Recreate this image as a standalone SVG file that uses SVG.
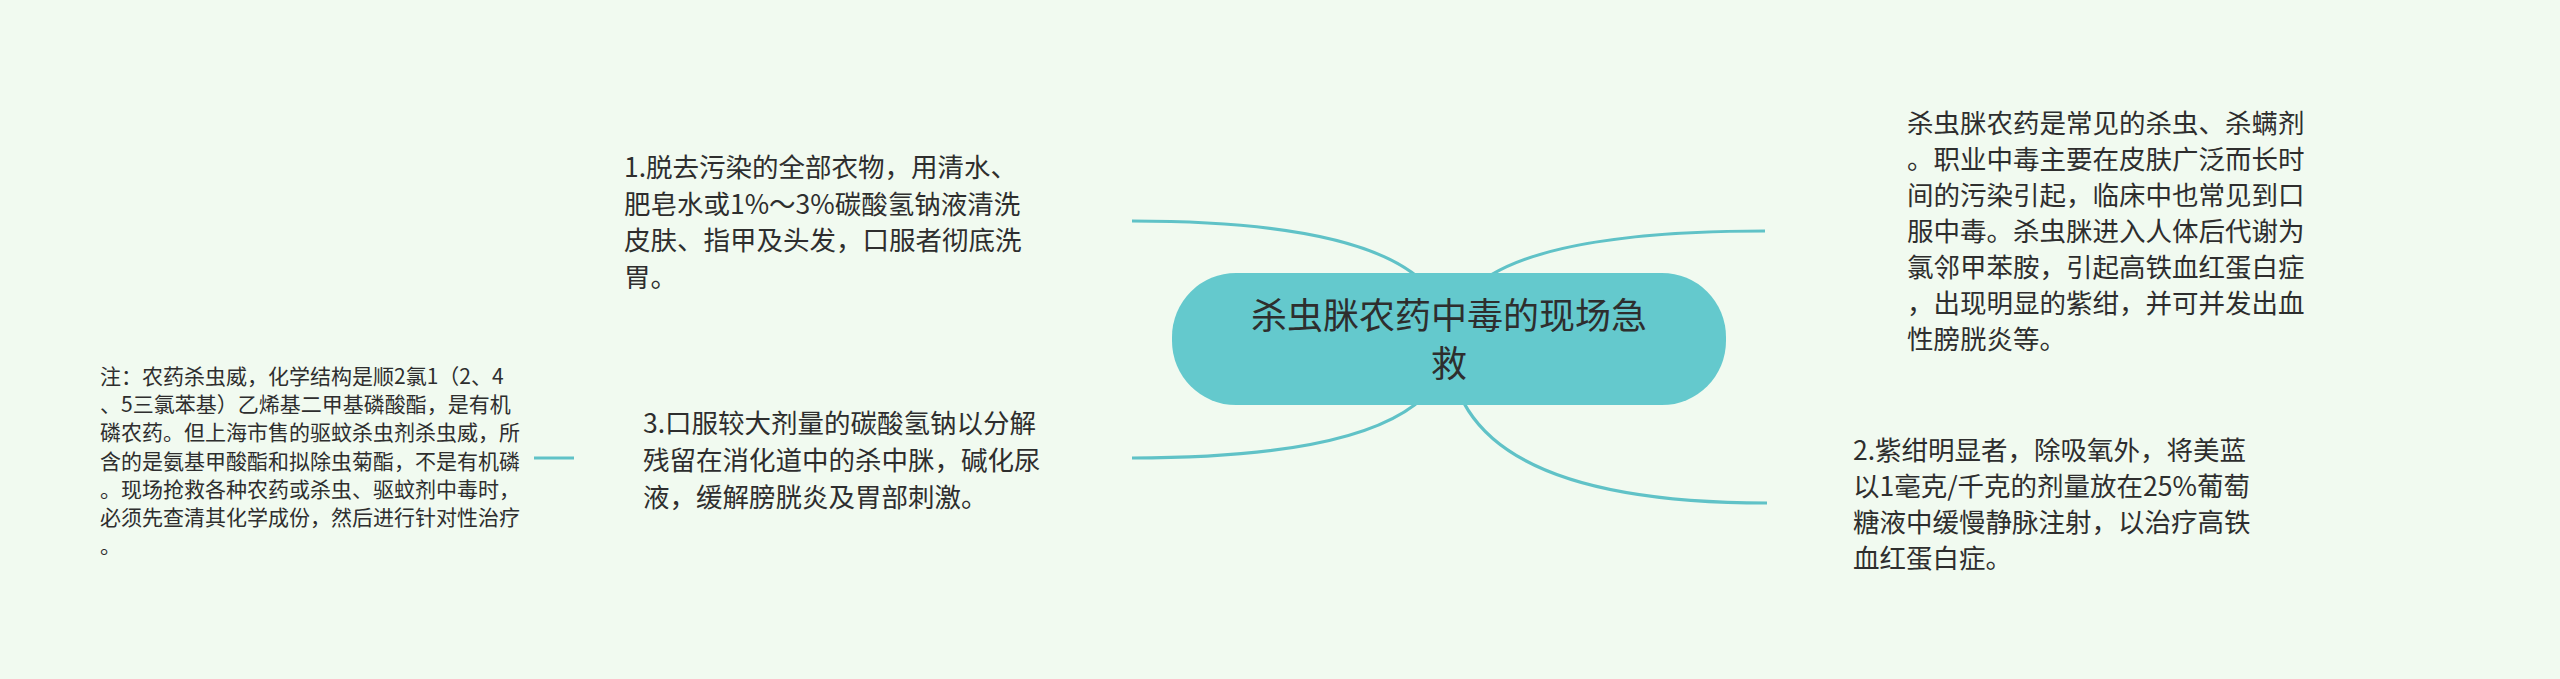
<svg xmlns="http://www.w3.org/2000/svg" width="2560" height="679" viewBox="0 0 2560 679">
<style>
.bg{fill:#f1faf0}
.edge{fill:none;stroke:#60c2c7;stroke-width:3.2;stroke-linecap:butt}
.root{fill:#64c9cd}
.t{font-family:"Noto Sans CJK SC","Noto Sans",sans-serif;fill:#2e2e2e}
.rt{font-size:36px}
.n{font-size:26.5px}
.s{font-size:21px}
</style>
<rect class="bg" x="0" y="0" width="2560" height="679"/>
<g id="connectors">
<path class="edge" d="M1132,221 Q1449,221 1449,340"/>
<path class="edge" d="M1765,231 Q1449,231 1449,340"/>
<path class="edge" d="M1132,458 Q1449,458 1449,340"/>
<path class="edge" d="M1767,503 Q1449,503 1449,340"/>
<path class="edge" d="M534,458 L574,458"/>
</g>
<g id="root">
<rect class="root" x="1172" y="273" width="554" height="132" rx="64" ry="64"/>
<text class="t rt" text-anchor="middle"><tspan x="1449" y="329">杀虫脒农药中毒的现场急</tspan><tspan x="1449" y="377">救</tspan></text>
</g>
<g id="node1">
<text class="t n"><tspan x="624" y="177">1.脱去污染的全部衣物，用清水、</tspan><tspan x="624" y="213.5">肥皂水或1%～3%碳酸氢钠液清洗</tspan><tspan x="624" y="250">皮肤、指甲及头发，口服者彻底洗</tspan><tspan x="624" y="286.5">胃。</tspan></text>
</g>
<g id="node3">
<text class="t n"><tspan x="643" y="433">3.口服较大剂量的碳酸氢钠以分解</tspan><tspan x="643" y="470">残留在消化道中的杀中脒，碱化尿</tspan><tspan x="643" y="507">液，缓解膀胱炎及胃部刺激。</tspan></text>
</g>
<g id="note">
<text class="t s"><tspan x="100" y="384">注：农药杀虫威，化学结构是顺2氯1（2、4</tspan><tspan x="100" y="412.2">、5三氯苯基）乙烯基二甲基磷酸酯，是有机</tspan><tspan x="100" y="440.4">磷农药。但上海市售的驱蚊杀虫剂杀虫威，所</tspan><tspan x="100" y="468.6">含的是氨基甲酸酯和拟除虫菊酯，不是有机磷</tspan><tspan x="100" y="496.8">。现场抢救各种农药或杀虫、驱蚊剂中毒时，</tspan><tspan x="100" y="525">必须先查清其化学成份，然后进行针对性治疗</tspan><tspan x="100" y="553.2">。</tspan></text>
</g>
<g id="node-right-top">
<text class="t n"><tspan x="1907" y="133">杀虫脒农药是常见的杀虫、杀螨剂</tspan><tspan x="1907" y="169">。职业中毒主要在皮肤广泛而长时</tspan><tspan x="1907" y="205">间的污染引起，临床中也常见到口</tspan><tspan x="1907" y="241">服中毒。杀虫脒进入人体后代谢为</tspan><tspan x="1907" y="277">氯邻甲苯胺，引起高铁血红蛋白症</tspan><tspan x="1907" y="313">，出现明显的紫绀，并可并发出血</tspan><tspan x="1907" y="349">性膀胱炎等。</tspan></text>
</g>
<g id="node2">
<text class="t n"><tspan x="1853" y="460">2.紫绀明显者，除吸氧外，将美蓝</tspan><tspan x="1853" y="496">以1毫克/千克的剂量放在25%葡萄</tspan><tspan x="1853" y="532">糖液中缓慢静脉注射，以治疗高铁</tspan><tspan x="1853" y="568">血红蛋白症。</tspan></text>
</g>
</svg>
